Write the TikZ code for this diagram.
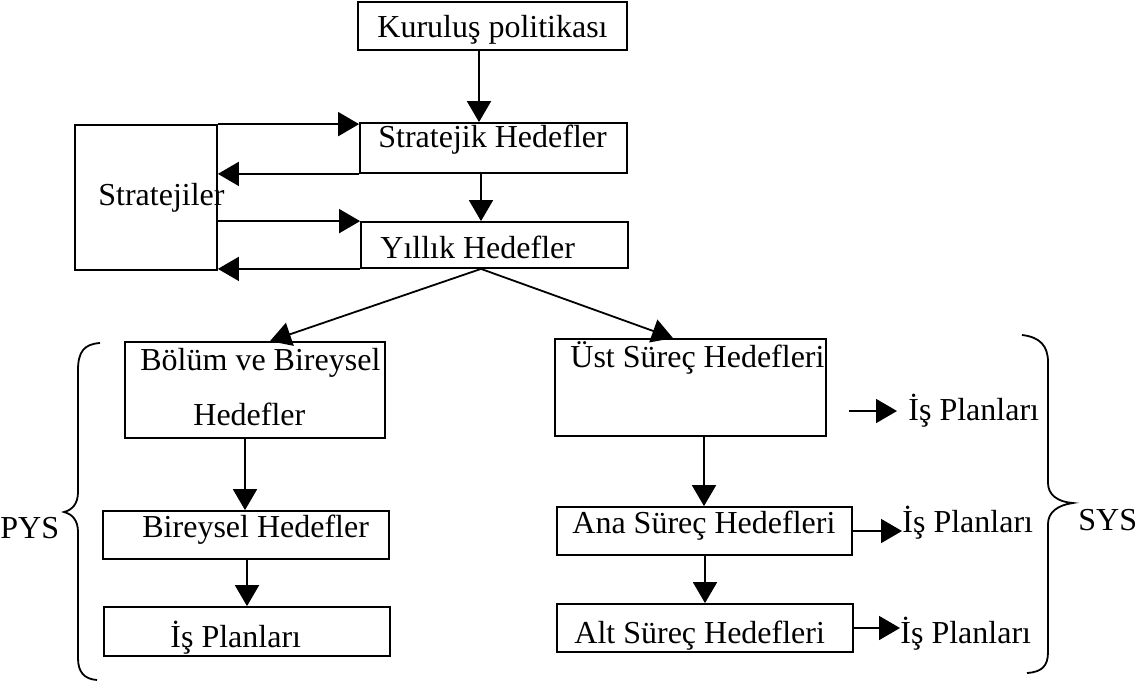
\documentclass[tikz,border=0pt]{standalone}
\usepackage{fontspec}
\setmainfont{Liberation Serif}
\usetikzlibrary{arrows.meta,fit}
\begin{document}
\begin{tikzpicture}[x=0.5pt,y=-0.5pt,
  box/.style={draw, line width=0.9pt, inner sep=0pt},
  lbl/.style={anchor=base west, inner sep=0pt, font=\fontsize{16pt}{19pt}\selectfont},
  arr/.style={line width=0.9pt, -{Triangle[length=10.5pt,width=12pt]}},
  link/.style={line width=0.9pt}]
\useasboundingbox[fill=white] (0,0) rectangle (1146,682);

% boxes
\node[box, fit={(358,2) (627,50)}]    (kp) {};
\node[box, fit={(360,123) (627,173)}] (sh) {};
\node[box, fit={(361,222) (628,268)}] (yh) {};
\node[box, fit={(75,125) (217,270)}]  (st) {};
\node[box, fit={(125,342) (385,438)}] (bb) {};
\node[box, fit={(103,511) (389,559)}] (bh) {};
\node[box, fit={(104,607) (390,656)}] (ip) {};
\node[box, fit={(555,339) (826,436)}] (us) {};
\node[box, fit={(557,507) (852,555)}] (an) {};
\node[box, fit={(557,604) (853,652)}] (al) {};

% texts
\node[lbl] (kpt) at (377,37)  {Kuruluş politikası};
\node[lbl] (sht) at (378,147) {Stratejik Hedefler};
\node[lbl] (stt) at (98,205)  {Stratejiler};
\node[lbl] (yht) at (380,258) {Yıllık Hedefler};
\node[lbl] (bbt) at (140,370) {Bölüm ve Bireysel};
\node[lbl] (bbt2) at (193,425) {Hedefler};
\node[lbl] (bht) at (142,537) {Bireysel Hedefler};
\node[lbl] (ipt) at (170,647) {İş Planları};
\node[lbl] (ust) at (570,367) {Üst Süreç Hedefleri};
\node[lbl] (ant) at (572,533) {Ana Süreç Hedefleri};
\node[lbl] (alt) at (574,643) {Alt Süreç Hedefleri};
\node[lbl] (i1) at (908,420) {İş Planları};
\node[lbl] (i2) at (902,532) {İş Planları};
\node[lbl] (i3) at (900,643) {İş Planları};
\node[lbl] (sys) at (1078,530) {SYS};
\node[lbl] (pys) at (0,538) {PYS};

% column positions of the vertical connectors
\coordinate (xa) at (479,0);
\coordinate (xb) at (481,0);
\coordinate (xc) at (270,0);
\coordinate (xd) at (673,0);
\coordinate (xe) at (245,0);
\coordinate (xf) at (247,0);
\coordinate (xg) at (704,0);
\coordinate (xh) at (705,0);
\coordinate (p1s) at (849,411);
\coordinate (p1e) at (897,411);

% main chain
\draw[arr] (kp.south -| xa) -- (sh.north -| xa);
\draw[arr] (sh.south -| xb) -- (yh.north -| xb);

% loops between strategies and goals
\draw[arr] (st.north east) -- (sh.west |- st.north east);
\draw[arr] (sh.south west) -- (st.east |- sh.south west);
\draw[arr] (st.east |- yh.north west) -- (yh.north west);
\draw[arr] (yh.south west) -- (st.east |- yh.south west);

% split from yearly goals
\draw[arr] (yh.south -| xb) -- (bb.north -| xc);
\draw[arr] (yh.south -| xb) -- (us.north -| xd);

% left column
\draw[arr] (bb.south -| xe) -- (bh.north -| xe);
\draw[arr] (bh.south -| xf) -- (ip.north -| xf);

% right column
\draw[arr] (us.south -| xg) -- (an.north -| xg);
\draw[arr] (an.south -| xh) -- (al.north -| xh);
\draw[arr] (p1s) -- (p1e);
\draw[arr] (an.east) -- (an.east -| i2.west);
\draw[arr] (al.east) -- (al.east -| i3.west);

% braces
\draw[link] (100,343) .. controls (84,344) and (78,352) .. (78,370)
  -- (78,492) .. controls (78,504) and (72,510) .. (64,512)
  .. controls (72,514) and (78,520) .. (78,532)
  -- (78,658) .. controls (78,672) and (84,679) .. (97,680);
\draw[link] (1022,335) .. controls (1040,337) and (1048,346) .. (1048,362)
  -- (1048,483) .. controls (1048,495) and (1058,502) .. (1073,503)
  .. controls (1058,505) and (1048,512) .. (1048,524)
  -- (1048,652) .. controls (1048,666) and (1042,672) .. (1027,673);
\end{tikzpicture}
\end{document}
